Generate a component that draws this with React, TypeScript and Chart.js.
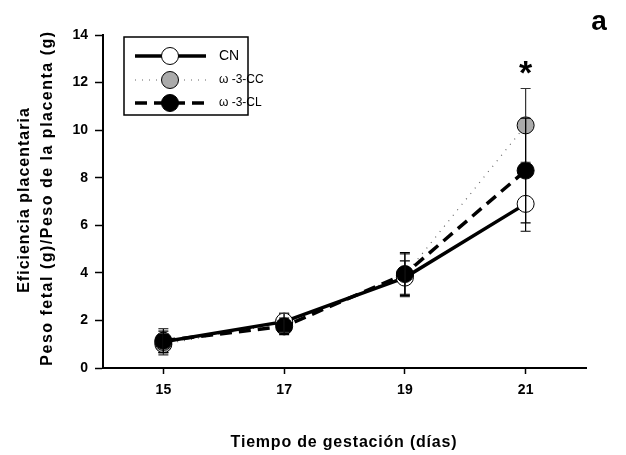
import React, { useEffect, useRef } from "react";
import { Chart, registerables } from "chart.js";

Chart.register(...registerables);

// Gestation days and placental efficiency (mean ± error) per diet group
const days = [15, 17, 19, 21];
const xTicks = [15, 17, 19, 21];
const yTicks = [0, 2, 4, 6, 8, 10, 12, 14];

const cnValues = [1.1, 1.95, 3.8, 6.9];
const cnErrors = [0.45, 0.35, 0.7, 1.15];

const ccValues = [1.0, 1.9, 3.9, 10.2];
const ccErrors = [0.45, 0.4, 0.9, 1.55];

const clValues = [1.15, 1.75, 3.95, 8.3];
const clErrors = [0.5, 0.35, 0.9, 2.2];

const seriesLabels = ["CN", "ω -3-CC", "ω -3-CL"];
const significantDay = 21;

const FONT = "'Liberation Sans', Arial, sans-serif";

const toPoints = (vals: number[]) => days.map((d, i) => ({ x: d, y: vals[i] }));

const errorBarsPlugin = {
  id: "errorBars",
  afterDatasetsDraw(chart: any) {
    const { ctx } = chart;
    const xs = chart.scales.x;
    const ys = chart.scales.y;
    const groups = [
      { vals: cnValues, errs: cnErrors, color: "#000" },
      { vals: ccValues, errs: ccErrors, color: "#333" },
      { vals: clValues, errs: clErrors, color: "#000" },
    ];
    ctx.save();
    ctx.lineWidth = 1.2;
    groups.forEach((g) => {
      ctx.strokeStyle = g.color;
      days.forEach((d, i) => {
        const px = xs.getPixelForValue(d);
        const top = ys.getPixelForValue(g.vals[i] + g.errs[i]);
        const bot = ys.getPixelForValue(g.vals[i] - g.errs[i]);
        ctx.beginPath();
        ctx.moveTo(px, top);
        ctx.lineTo(px, bot);
        ctx.moveTo(px - 5, top);
        ctx.lineTo(px + 5, top);
        ctx.moveTo(px - 5, bot);
        ctx.lineTo(px + 5, bot);
        ctx.stroke();
      });
    });
    ctx.restore();
  },
};

const decorPlugin = {
  id: "decor",
  afterDraw(chart: any) {
    const { ctx } = chart;
    const xs = chart.scales.x;
    const ys = chart.scales.y;
    ctx.save();

    // Axis titles
    ctx.fillStyle = "#000";
    ctx.font = `bold 16px ${FONT}`;
    ctx.textAlign = "center";
    ctx.textBaseline = "middle";
    (ctx as any).letterSpacing = "0.8px";
    ctx.fillText("Tiempo de gestación (días)", 344, 443);

    (ctx as any).letterSpacing = "1px";
    ctx.save();
    ctx.translate(25, 200);
    ctx.rotate(-Math.PI / 2);
    ctx.fillText("Eficiencia placentaria", 0, 0);
    ctx.restore();
    ctx.save();
    ctx.translate(48, 198);
    ctx.rotate(-Math.PI / 2);
    (ctx as any).letterSpacing = "1.5px";
    ctx.fillText("Peso fetal (g)/Peso de la placenta (g)", 0, 0);
    ctx.restore();
    (ctx as any).letterSpacing = "0px";

    // Panel letter
    ctx.font = `bold 28px ${FONT}`;
    ctx.fillText("a", 599, 22);

    // Significance marker
    const topIdx = days.indexOf(significantDay);
    const sx = xs.getPixelForValue(significantDay);
    const sy = ys.getPixelForValue(ccValues[topIdx] + ccErrors[topIdx]);
    ctx.font = `bold 34px ${FONT}`;
    ctx.fillText("*", sx, sy - 14);

    // Legend
    const bx = 124, by = 37, bw = 124, bh = 78;
    ctx.lineWidth = 1.5;
    ctx.strokeStyle = "#000";
    ctx.strokeRect(bx, by, bw, bh);
    const rows = [56, 80, 103];
    const styles = [
      { dash: [] as number[], width: 3.5, color: "#000", fill: "#fff" },
      { dash: [1, 6], width: 1.2, color: "#666", fill: "#aaa" },
      { dash: [12, 7], width: 3.5, color: "#000", fill: "#000" },
    ];
    rows.forEach((ry, i) => {
      const s = styles[i];
      ctx.setLineDash(s.dash);
      ctx.lineWidth = s.width;
      ctx.strokeStyle = s.color;
      ctx.beginPath();
      ctx.moveTo(135, ry);
      ctx.lineTo(206, ry);
      ctx.stroke();
      ctx.setLineDash([]);
      ctx.beginPath();
      ctx.arc(170, ry, 8.5, 0, Math.PI * 2);
      ctx.fillStyle = s.fill;
      ctx.fill();
      ctx.lineWidth = 1;
      ctx.strokeStyle = "#000";
      ctx.stroke();
      ctx.fillStyle = "#000";
      ctx.font = i === 0 ? `14px ${FONT}` : `12px ${FONT}`;
      ctx.textAlign = "left";
      ctx.fillText(seriesLabels[i], 219, ry);
    });

    ctx.restore();
  },
};

export default function App() {
  const ref = useRef<HTMLCanvasElement | null>(null);

  useEffect(() => {
    if (!ref.current) return;
    const chart = new Chart(ref.current, {
      type: "line",
      data: {
        datasets: [
          {
            label: seriesLabels[0],
            data: toPoints(cnValues),
            borderColor: "#000",
            borderWidth: 3.5,
            pointRadius: 8.5,
            pointBackgroundColor: "#fff",
            pointBorderColor: "#000",
            pointBorderWidth: 1,
            tension: 0,
            order: 1,
          },
          {
            label: seriesLabels[1],
            data: toPoints(ccValues),
            borderColor: "#666",
            borderWidth: 1.2,
            borderDash: [1, 6],
            pointRadius: 8.5,
            pointBackgroundColor: "#aaa",
            pointBorderColor: "#000",
            pointBorderWidth: 1,
            tension: 0,
            order: 2,
          },
          {
            label: seriesLabels[2],
            data: toPoints(clValues),
            borderColor: "#000",
            borderWidth: 3.5,
            borderDash: [12, 7],
            pointRadius: 8.5,
            pointBackgroundColor: "#000",
            pointBorderColor: "#000",
            pointBorderWidth: 1,
            tension: 0,
            order: 0,
          },
        ],
      },
      options: {
        responsive: false,
        animation: false,
        layout: { padding: { left: 0, top: 35, right: 40, bottom: 0 } },
        plugins: {
          legend: { display: false },
          tooltip: { enabled: false },
        },
        scales: {
          x: {
            type: "linear",
            min: 14,
            max: 22,
            afterBuildTicks: (scale: any) => {
              scale.ticks = xTicks.map((v) => ({ value: v }));
            },
            afterFit: (scale: any) => {
              scale.height = 87;
            },
            grid: {
              drawOnChartArea: false,
              drawTicks: true,
              tickLength: 6,
              tickColor: "#000",
              tickWidth: 1.5,
            },
            border: { display: true, color: "#000", width: 2 },
            ticks: {
              color: "#000",
              font: { family: FONT, size: 14, weight: "bold" },
              padding: 8,
              maxRotation: 0,
            },
          },
          y: {
            min: 0,
            max: 14,
            afterBuildTicks: (scale: any) => {
              scale.ticks = yTicks.map((v) => ({ value: v }));
            },
            afterFit: (scale: any) => {
              scale.width = 103;
            },
            grid: {
              drawOnChartArea: false,
              drawTicks: true,
              tickLength: 8,
              tickColor: "#000",
              tickWidth: 1.5,
            },
            border: { display: true, color: "#000", width: 2 },
            ticks: {
              color: "#000",
              font: { family: FONT, size: 14, weight: "bold" },
              padding: 7,
            },
          },
        },
      },
      plugins: [errorBarsPlugin, decorPlugin],
    } as any);
    return () => chart.destroy();
  }, []);

  return (
    <div style={{ position: "fixed", left: 0, top: 0, width: 626, height: 455, background: "#fff" }}>
      <canvas ref={ref} width={626} height={455} />
    </div>
  );
}
